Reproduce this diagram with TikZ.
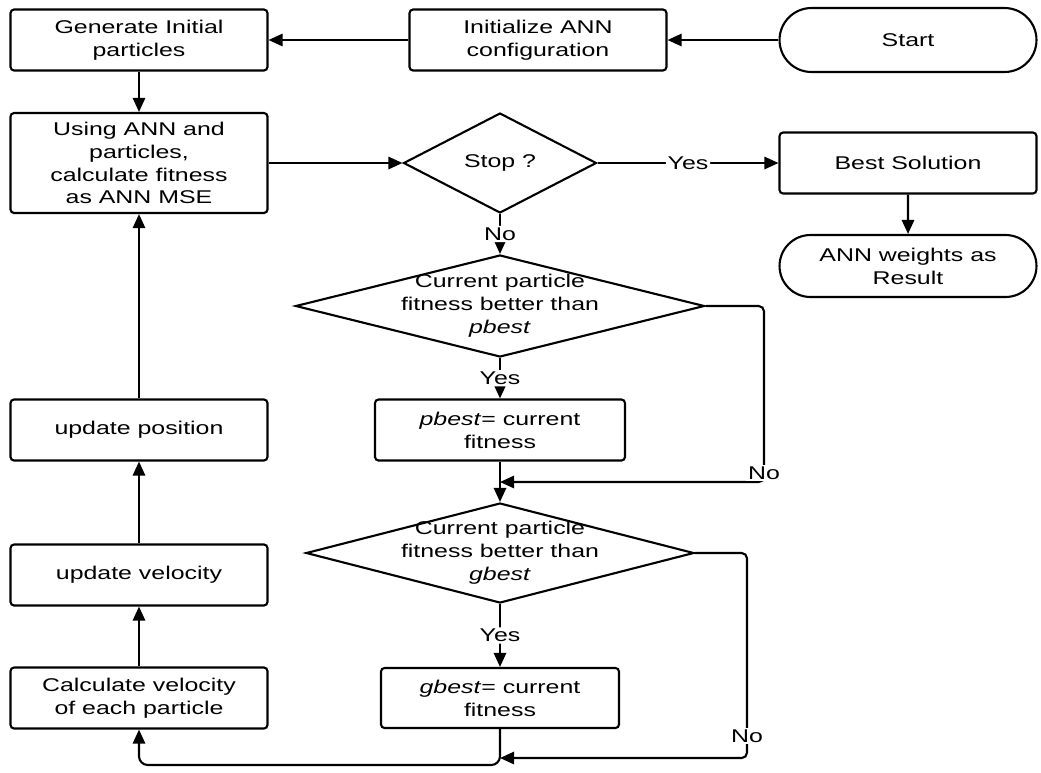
\documentclass[tikz,border=0pt]{standalone}
\usepackage{fontspec}
\setmainfont{Liberation Sans}[FakeStretch=1.35]
\usetikzlibrary{shapes.geometric, shapes.misc, arrows.meta}

\begin{document}
\begin{tikzpicture}[x=0.02cm, y=-0.02cm,
    font=\fontsize{10.5}{13}\selectfont,
    box/.style={draw, line width=1.2pt, rounded corners=2pt, align=center,
        minimum width=5.14cm, minimum height=1.22cm, inner sep=2pt},
    term/.style={draw, rounded rectangle, line width=1.2pt, align=center,
        minimum width=5.14cm, minimum height=1.28cm, inner sep=0pt},
    decision/.style={draw, diamond, line width=1.2pt, align=center,
        inner xsep=0pt, inner ysep=-10pt},
    line/.style={line width=1.2pt, rounded corners=3pt, -{Triangle[length=8pt,width=7pt]}},
    lbl/.style={fill=white, inner sep=1pt}]

    \useasboundingbox (0,0) rectangle (1041,772);

    % Top row
    \node[box] (gen) at (139,40) {Generate Initial\\particles};
    \node[box] (init) at (538,40) {Initialize ANN\\configuration};
    \node[term] (start) at (908,40) {Start};

    % Fitness and stop test
    \node[box, minimum height=2cm] (fit) at (139,163) {Using ANN and\\particles,\\calculate fitness\\as ANN MSE};
    \node[decision, aspect=1.93, minimum width=3.86cm, minimum height=2cm] (stop) at (500,163) {Stop ?};
    \node[box] (best) at (908,163) {Best Solution};
    \node[term, minimum height=1.24cm] (result) at (908,266) {ANN weights as\\Result};

    % pbest test
    \node[decision, aspect=4, minimum width=8.18cm, minimum height=2.04cm] (pq) at (500,306)
        {Current particle\\fitness better than\\\textit{pbest}};
    \node[box, minimum width=5cm] (pset) at (500,430) {\textit{pbest}= current\\fitness};

    % gbest test
    \node[decision, aspect=3.9, minimum width=7.76cm, minimum height=2cm] (gq) at (500,553)
        {Current particle\\fitness better than\\\textit{gbest}};
    \node[box, minimum width=4.76cm, minimum height=1.2cm] (gset) at (500,698) {\textit{gbest}= current\\fitness};

    % Left column
    \node[box] (pos) at (139,430) {update position};
    \node[box] (vel) at (139,575) {update velocity};
    \node[box] (calc) at (139,698) {Calculate velocity\\of each particle};

    % Join points
    \coordinate (pjoin) at (500,482);
    \coordinate (pturn) at (764,482);
    \coordinate (gjoin) at (500,758);
    \coordinate (gturn) at (747,758);
    \coordinate (bottom) at (500,765);

    % Connectors
    \draw[line] (start) -- (init);
    \draw[line] (init) -- (gen);
    \draw[line] (gen) -- (fit);
    \draw[line] (fit) -- (stop);
    \draw[line] (stop) -- node[lbl] {Yes} (best);
    \draw[line] (best) -- (result);
    \draw[line] (stop) -- node[lbl] {No} (pq);
    \draw[line] (pq) -- node[lbl] {Yes} (pset);
    \draw[line] (pset) -- (gq);
    \draw[line] (pq.east) -| (pturn) -- (pjoin);
    \node[lbl] (pno) at (764,473) {No};
    \draw[line] (gq) -- node[lbl] {Yes} (gset);
    \draw[line] (gq.east) -| (gturn) -- (gjoin);
    \node[lbl] (gno) at (747,736) {No};
    \draw[line, rounded corners=5pt] (gset.south) -- (bottom) -| (calc.south);
    \draw[line] (calc) -- (vel);
    \draw[line] (vel) -- (pos);
    \draw[line] (pos) -- (fit);

\end{tikzpicture}
\end{document}
